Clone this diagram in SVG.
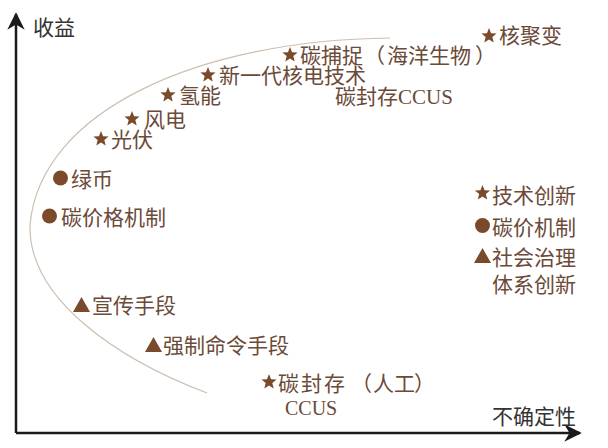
<svg xmlns="http://www.w3.org/2000/svg" width="608" height="448" viewBox="0 0 608 448">
<style>
.t{font-family:"Noto Sans CJK SC","Noto Sans",sans-serif;font-size:21px;fill:#6b4a38}
.l{font-family:"Liberation Serif","Noto Sans CJK SC",serif;font-size:21px;fill:#6b4a38}
.ax{font-family:"Noto Sans CJK SC","Noto Sans",sans-serif;font-size:21px;fill:#333}
.m{fill:#7b4a2b}
.axis{stroke:#1a1a1a;stroke-width:2.5;fill:none}
.curve{stroke:#cdbfb2;stroke-width:1.2;fill:none}
</style>
<defs>
<path id="star" d="M0,-8 L2.06,-2.83 L7.61,-2.47 L3.33,1.08 L4.70,6.47 L0,3.5 L-4.70,6.47 L-3.33,1.08 L-7.61,-2.47 L-2.06,-2.83 Z"/>
<path id="tri" d="M0,-8 L8.5,7 L-8.5,7 Z"/>
<marker id="ah" viewBox="0 0 10 10" refX="9" refY="5" markerWidth="7" markerHeight="7" markerUnits="strokeWidth" orient="auto">
<path d="M0,0 L10,5 L0,10 L3,5 Z" fill="#1a1a1a"/>
</marker>
</defs>
<g id="connectors">
<path class="axis" d="M16,433 V14" marker-end="url(#ah)"/>
<path class="axis" d="M16,433 H580" marker-end="url(#ah)"/>
<path class="curve" d="M390,38 C200,40 40,110 30,225 C28,300 120,360 207,393"/>
</g>
<g id="label-y"><text class="ax" x="33" y="35">收益</text></g>
<g id="label-x"><text class="ax" x="492" y="424">不确定性</text></g>
<g id="n-fusion"><use href="#star" class="m" x="489" y="36"/><text class="t" x="499" y="43">核聚变</text></g>
<g id="n-capture"><use href="#star" class="m" x="290" y="55"/><text class="t" x="300" y="63">碳捕捉<tspan x="364">（</tspan><tspan x="387">海洋生物</tspan><tspan x="475">）</tspan></text></g>
<g id="n-ccus-top"><text class="t" x="335" y="104">碳封存<tspan class="l">CCUS</tspan></text></g>
<g id="n-nuclear"><use href="#star" class="m" x="208" y="75"/><text class="t" x="219" y="83">新一代核电技术</text></g>
<g id="n-hydrogen"><use href="#star" class="m" x="168" y="95"/><text class="t" x="179" y="103">氢能</text></g>
<g id="n-wind"><use href="#star" class="m" x="132" y="119"/><text class="t" x="144" y="127">风电</text></g>
<g id="n-pv"><use href="#star" class="m" x="101" y="139"/><text class="t" x="111" y="147">光伏</text></g>
<g id="n-green"><circle class="m" cx="60.5" cy="178" r="7.5"/><text class="t" x="71" y="187">绿币</text></g>
<g id="n-price"><circle class="m" cx="49.5" cy="216" r="7.5"/><text class="t" x="61" y="225">碳价格机制</text></g>
<g id="n-promo"><use href="#tri" class="m" x="81.5" y="305"/><text class="t" x="92" y="313">宣传手段</text></g>
<g id="n-command"><use href="#tri" class="m" x="153.5" y="345"/><text class="t" x="163" y="353">强制命令手段</text></g>
<g id="n-storage"><use href="#star" class="m" x="269" y="382"/><text class="t" x="278" y="391" letter-spacing="2">碳封存</text><text class="t" x="351" y="391">（</text><text class="t" x="373" y="391">人工</text><text class="t" x="414" y="391">）</text><text class="l" x="285" y="415" style="font-size:20px">CCUS</text></g>
<g id="legend">
<use href="#star" class="m" x="482.5" y="193"/><text class="t" x="492" y="203">技术创新</text>
<circle class="m" cx="482.5" cy="225.5" r="7.5"/><text class="t" x="492" y="235">碳价机制</text>
<use href="#tri" class="m" x="482.5" y="256"/><text class="t" x="492" y="265">社会治理</text>
<text class="t" x="492" y="292">体系创新</text>
</g>
</svg>
